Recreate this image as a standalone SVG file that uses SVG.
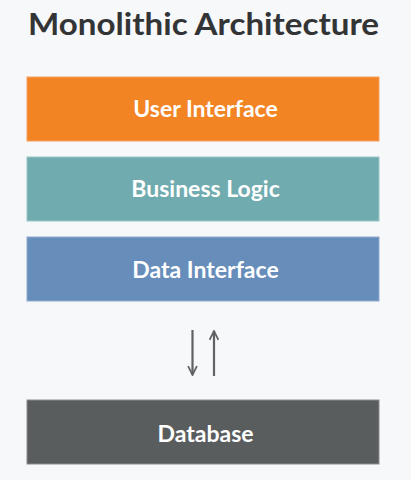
<svg xmlns="http://www.w3.org/2000/svg" width="411" height="480" viewBox="0 0 411 480">
<defs>
<style>
.bg{fill:#F7F8FA}
.box{stroke-width:1}
.lbl{font-family:Lato,"Liberation Sans",sans-serif;font-weight:bold;font-size:23px;fill:#FFFFFF;text-anchor:middle}
.title{font-family:Lato,"Open Sans","Liberation Sans",sans-serif;font-weight:bold;font-size:30px;fill:#333436}
.conn{stroke:#606264;stroke-width:2.2;fill:none}
</style>
<marker id="ah" viewBox="0 0 10 10" refX="9" refY="5" markerWidth="11" markerHeight="11" markerUnits="userSpaceOnUse" orient="auto">
<path d="M1,1 L9,5 L1,9" fill="none" stroke="#606264" stroke-width="1.6"/>
</marker>
</defs>
<rect class="bg" x="0" y="0" width="411" height="480"/>
<text class="title" x="28" y="35" textLength="351" lengthAdjust="spacingAndGlyphs">Monolithic Architecture</text>
<g id="user-interface">
<rect class="box" x="27" y="77" width="352" height="64" fill="#F38424" stroke="#F5A060"/>
<text class="lbl" x="205.5" y="116.5">User Interface</text>
</g>
<g id="business-logic">
<rect class="box" x="27" y="157" width="352" height="64" fill="#70ABAF" stroke="#9CC4C8"/>
<text class="lbl" x="205.5" y="197">Business Logic</text>
</g>
<g id="data-interface">
<rect class="box" x="27" y="237" width="352" height="64" fill="#678DBA" stroke="#8FAAD0"/>
<text class="lbl" x="205.5" y="277.5">Data Interface</text>
</g>
<g id="database">
<rect class="box" x="27" y="400" width="352" height="64" fill="#5A5D5E" stroke="#8A8C8E"/>
<text class="lbl" x="205.5" y="442">Database</text>
</g>
<g id="connectors">
<line class="conn" x1="192.5" y1="330" x2="192.5" y2="375" marker-end="url(#ah)"/>
<line class="conn" x1="214" y1="376" x2="214" y2="331" marker-end="url(#ah)"/>
</g>
</svg>
